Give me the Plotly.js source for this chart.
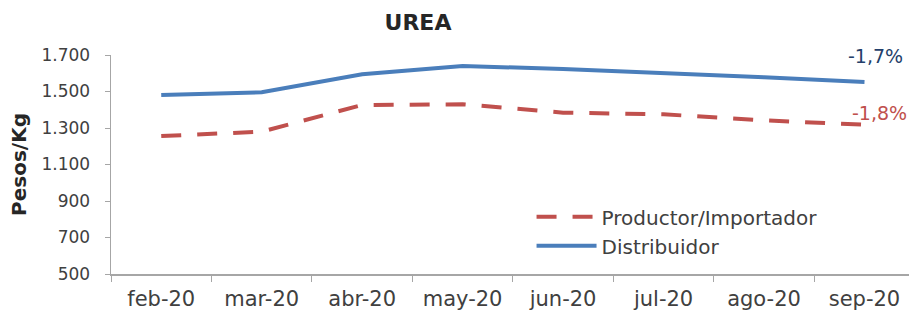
<!DOCTYPE html>
<html><head><meta charset="utf-8">
<script src="https://cdn.plot.ly/plotly-3.0.1.min.js"></script>
<style>html,body{margin:0;padding:0;background:#fff}#c{width:909px;height:310px}</style>
</head><body><div id="c"></div>
<script>
const months = ["feb-20","mar-20","abr-20","may-20","jun-20","jul-20","ago-20","sep-20"];
const productor = [1256, 1280, 1426, 1430, 1384, 1375, 1342, 1318];
const distribuidor = [1481, 1496, 1594, 1640, 1623, 1603, 1578, 1552];
const yTicks = [500, 700, 900, 1100, 1300, 1500, 1700];
const yTickText = ["500","700","900","1.100","1.300","1.500","1.700"];
const changeDist = "-1,7%";
const changeProd = "-1,8%";

const font = "'DejaVu Sans', Verdana, sans-serif";
const traces = [
  {x: months, y: productor, type: "scatter", mode: "lines", name: "Productor/Importador",
   line: {color: "#C0504D", width: 4, dash: "20px,16px"}},
  {x: months, y: distribuidor, type: "scatter", mode: "lines", name: "Distribuidor",
   line: {color: "#4A7EBB", width: 4}}
];
const layout = {
  width: 909, height: 310,
  margin: {l: 111, r: 0, t: 55, b: 36},
  paper_bgcolor: "#fff", plot_bgcolor: "#fff",
  font: {family: font, color: "#404040", size: 17},
  title: {text: "<b>UREA</b>", x: 418/909, xanchor: "center", y: 1 - 22/310, yanchor: "middle",
          font: {family: font, size: 22, color: "#262626"}},
  showlegend: true,
  legend: {x: 0.527, xanchor: "left", y: 0.35, yanchor: "top", bgcolor: "rgba(0,0,0,0)",
           font: {size: 20, color: "#404040"}, traceorder: "normal", itemwidth: 60},
  xaxis: {type: "category", range: [-0.5, 7.443], showline: true, linecolor: "#A6A6A6", linewidth: 1.5,
          ticks: "outside", ticklen: 6, tickcolor: "#A6A6A6", tickson: "boundaries", showgrid: false,
          ticklabelstandoff: 5,
          zeroline: false, tickfont: {size: 21, color: "#404040"}, fixedrange: true},
  yaxis: {range: [500, 1700], tickvals: yTicks, ticktext: yTickText, showline: true,
          linecolor: "#A6A6A6", linewidth: 1.5, ticks: "outside", ticklen: 5, tickcolor: "#A6A6A6",
          ticklabelstandoff: 11,
          showgrid: false, zeroline: false, tickfont: {size: 17, color: "#404040"},
          title: {text: "<b>Pesos/Kg</b>", standoff: 9, font: {family: font, size: 20, color: "#262626"}}},
  annotations: [
    {x: 7, y: distribuidor[7], xref: "x", yref: "y", text: changeDist, showarrow: false,
     xanchor: "right", yanchor: "middle", xshift: 41, yshift: 26, font: {size: 19, color: "#243F6B"}},
    {x: 7, y: productor[7], xref: "x", yref: "y", text: changeProd, showarrow: false,
     xanchor: "right", yanchor: "middle", xshift: 45, yshift: 12, font: {size: 19, color: "#C0504D"}}
  ]
};
Plotly.newPlot("c", traces, layout, {displayModeBar: false, staticPlot: true});
</script></body></html>
